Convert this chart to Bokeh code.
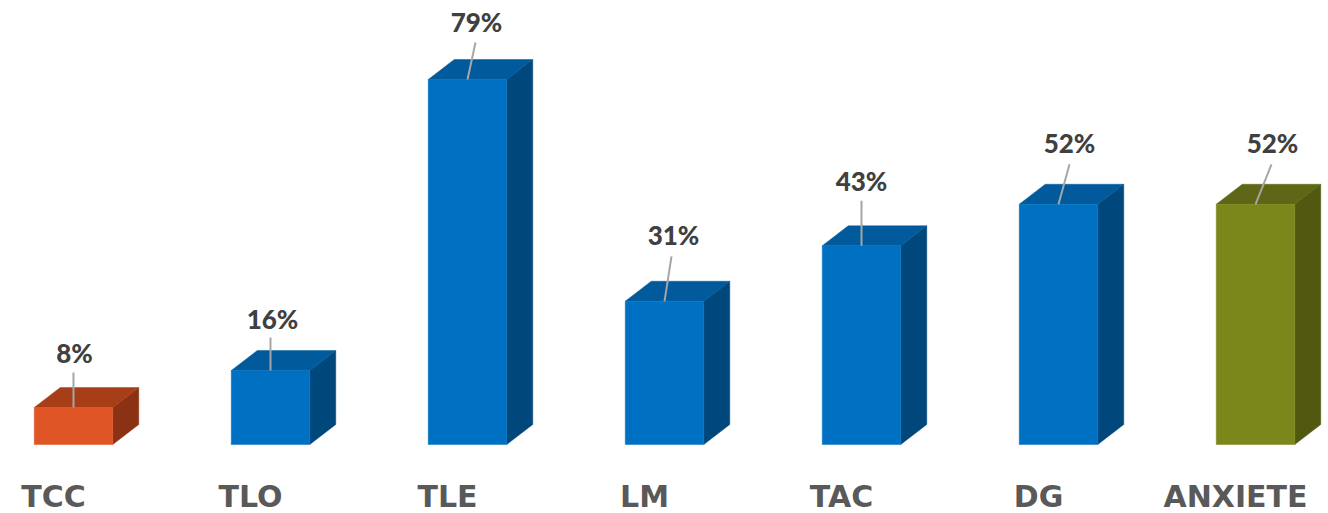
from bokeh.core.properties import value
from bokeh.embed import file_html
from bokeh.models import ColumnDataSource, Range1d
from bokeh.plotting import figure
from bokeh.resources import INLINE

categories = ["TCC", "TLO", "TLE", "LM", "TAC", "DG", "ANXIETE"]
percentages = [8, 16, 79, 31, 43, 52, 52]
front_colors = ["#E05525", "#0070C2", "#0070C2", "#0070C2", "#0070C2", "#0070C2", "#7C871B"]
top_colors = ["#A83E18", "#005A9C", "#005A9C", "#005A9C", "#005A9C", "#005A9C", "#5E6716"]
side_colors = ["#8C3214", "#00477C", "#00477C", "#00477C", "#00477C", "#00477C", "#515810"]

# Leader lines and value labels, as pixel offsets from the centre of each bar's top edge
leader_head_dx = [0, 0, 8, 7, 0, 11, 16]
leader_head_dy = [35, 33, 37, 45, 45, 40, 40]
label_dx = [1, 2, 9, 9, 0, 11, 17]
label_dy = [55, 52, 58, 66, 65, 61, 61]

W, H = 1328, 513
STEP = 197.0          # pixels between neighbouring bars
PX_PER_PCT = 4.62     # pixels per percentage point
BAR_W = 78.5 / STEP
DEPTH_X = 26 / STEP
DEPTH_Y = 20 / PX_PER_PCT
FIRST_CENTRE = 73.0
BASE_Y = 444

p = figure(
    width=W, height=H, output_backend="svg", toolbar_location=None,
    x_range=Range1d(-FIRST_CENTRE / STEP, (W - FIRST_CENTRE) / STEP),
    y_range=Range1d((BASE_Y - H) / PX_PER_PCT, BASE_Y / PX_PER_PCT),
    min_border=0, outline_line_color=None,
)
p.axis.visible = False
p.grid.visible = False

xs = list(range(len(categories)))
left = [x - BAR_W / 2 for x in xs]
right = [x + BAR_W / 2 for x in xs]

# Extruded box: side face, top face, then the front
side = ColumnDataSource(dict(
    xs=[[r, r + DEPTH_X, r + DEPTH_X, r] for r in right],
    ys=[[0, DEPTH_Y, v + DEPTH_Y, v] for v in percentages],
    c=side_colors,
))
top = ColumnDataSource(dict(
    xs=[[l, l + DEPTH_X, r + DEPTH_X, r] for l, r in zip(left, right)],
    ys=[[v, v + DEPTH_Y, v + DEPTH_Y, v] for v in percentages],
    c=top_colors,
))
p.patches("xs", "ys", source=side, fill_color="c", line_color="c", line_width=0.5)
p.patches("xs", "ys", source=top, fill_color="c", line_color="c", line_width=0.5)
p.vbar(x=xs, width=BAR_W, bottom=0, top=percentages, fill_color=front_colors,
       line_color=front_colors, line_width=0.5)

# Leader lines from the top face up to each value label
p.segment(
    x0=xs,
    y0=percentages,
    x1=[x + d / STEP for x, d in zip(xs, leader_head_dx)],
    y1=[v + d / PX_PER_PCT for v, d in zip(percentages, leader_head_dy)],
    line_color="#A6A6A6", line_width=2,
)

p.text(
    x=[x + d / STEP for x, d in zip(xs, label_dx)],
    y=[v + d / PX_PER_PCT for v, d in zip(percentages, label_dy)],
    text=[f"{v}%" for v in percentages],
    text_font=value("Lato Black"), text_font_size="26px",
    text_color="#404040", text_align="center", text_baseline="middle",
)

p.text(
    x=[x - 20 / STEP for x in xs],
    y=[(BASE_Y - 496) / PX_PER_PCT] * len(xs),
    text=categories,
    text_font=value("DejaVu Sans"), text_font_style="bold", text_font_size="30px",
    text_color="#595959", text_align="center", text_baseline="middle",
)

open("out.html", "w").write(file_html(p, INLINE))
